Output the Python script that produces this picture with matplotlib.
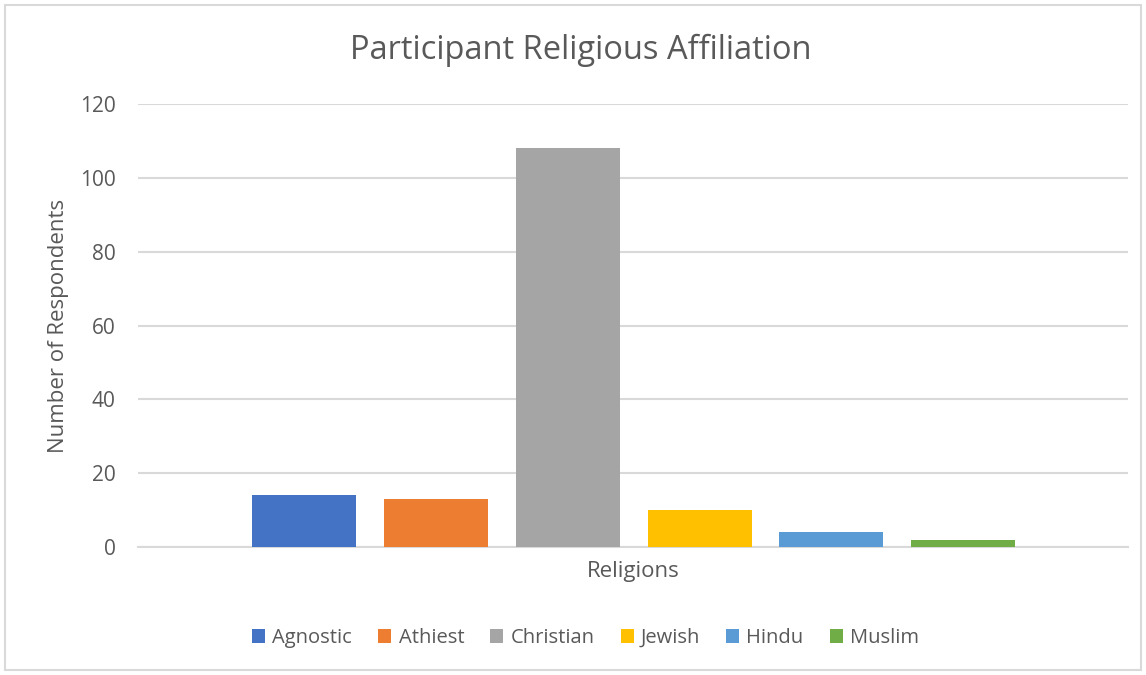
import matplotlib.pyplot as plt
from matplotlib.patches import Rectangle

# 数据
religions = ["Agnostic", "Athiest", "Christian", "Jewish", "Hindu", "Muslim"]
counts = [14, 13, 108, 10, 4, 2]
colors = ["#4472C4", "#ED7D31", "#A5A5A5", "#FFC000", "#5B9BD5", "#70AD47"]
y_ticks = [0, 20, 40, 60, 80, 100, 120]

plt.rcParams["font.family"] = ["Open Sans", "DejaVu Sans"]
text_color = "#595959"

fig = plt.figure(figsize=(11.46, 6.75), dpi=100)
ax = fig.add_axes([0.1204, 0.1896, 0.8639, 0.6563])

# 每个宗教一根柱子（同一类别下的多个系列）
for i, (name, val, c) in enumerate(zip(religions, counts, colors)):
    ax.bar(i, val, width=0.788, color=c, label=name, zorder=3)

ax.set_xlim(-1.26, 6.25)
ax.set_ylim(0, 120)
ax.set_yticks(y_ticks)
ax.set_xticks([])
ax.tick_params(axis="y", length=0, labelsize=15, labelcolor=text_color, pad=16)
ax.grid(axis="y", color="#d9d9d9", linewidth=1.5, zorder=0)
for s in ["top", "right", "left"]:
    ax.spines[s].set_visible(False)
ax.spines["bottom"].set_color("#d9d9d9")
ax.spines["bottom"].set_linewidth(1.5)

ax.set_xlabel("Religions", fontsize=16, color=text_color, labelpad=10)
ax.set_ylabel("Number of Respondents", fontsize=16, color=text_color, labelpad=8)
fig.text(0.507, 0.926, "Participant Religious Affiliation", fontsize=23.5,
         color=text_color, ha="center", va="center")

leg = fig.legend(loc="center", bbox_to_anchor=(0.511, 0.055), ncol=6,
                 frameon=False, fontsize=14.5, handlelength=0.65, handleheight=0.65,
                 handletextpad=0.35, columnspacing=1.3)
for t in leg.get_texts():
    t.set_color(text_color)

# 图表外框
fig.patches.append(Rectangle((0.0044, 0.0074), 0.9912, 0.9852, transform=fig.transFigure,
                             fill=False, edgecolor="#d9d9d9", linewidth=1.5))

fig.savefig("out.png", dpi=100)
